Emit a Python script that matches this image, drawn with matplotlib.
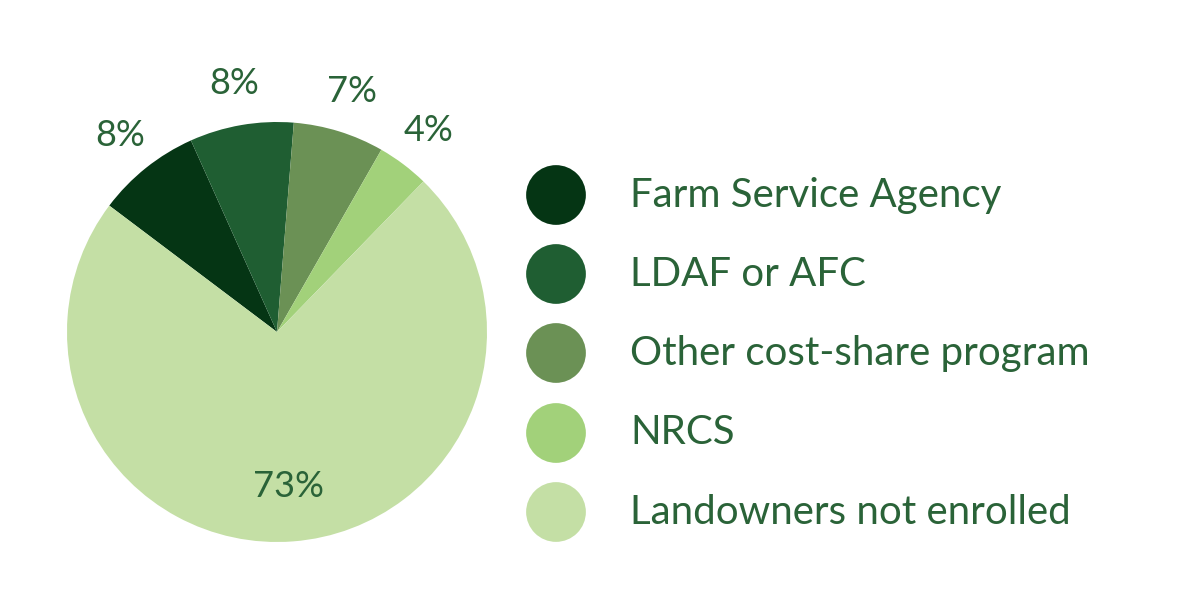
import numpy as np
import matplotlib.pyplot as plt

# Data
categories = ['Farm Service Agency', 'LDAF or AFC', 'Other cost-share program',
              'NRCS', 'Landowners not enrolled']
shares = [8, 8, 7, 4, 73]
colors = ['#053514', '#1f5e32', '#6b9155', '#a2d17a', '#c4dfa5']
text_color = '#2a6338'

plt.rcParams['font.family'] = ['Lato', 'DejaVu Sans']

fig = plt.figure(figsize=(12, 6), dpi=100)
ax = fig.add_axes([0, 0, 1, 1])

cx, cy, R = 277, 268, 210
wedges, _ = ax.pie(shares, colors=colors, startangle=143, counterclock=False,
                   center=(cx, cy), radius=R, frame=True,
                   wedgeprops=dict(linewidth=0))
ax.set_xlim(0, 1200)
ax.set_ylim(0, 600)
ax.set_aspect('equal')
ax.axis('off')

# Percent labels
for w, s in zip(wedges, shares):
    mid = np.deg2rad((w.theta1 + w.theta2) / 2)
    r = R * (0.74 if s > 50 else 1.2)
    ax.text(cx + r * np.cos(mid), cy + r * np.sin(mid), f'{s}%',
            ha='center', va='center', fontsize=26, color=text_color)

# Legend
ys = 600 - np.array([195, 274, 353, 433, 512])
ax.scatter([556] * len(categories), ys, s=1850, c=colors, linewidths=0)
for y, name in zip(ys, categories):
    ax.text(630, y, name, ha='left', va='center', fontsize=29,
            color=text_color)

fig.savefig('out.png', dpi=100)
